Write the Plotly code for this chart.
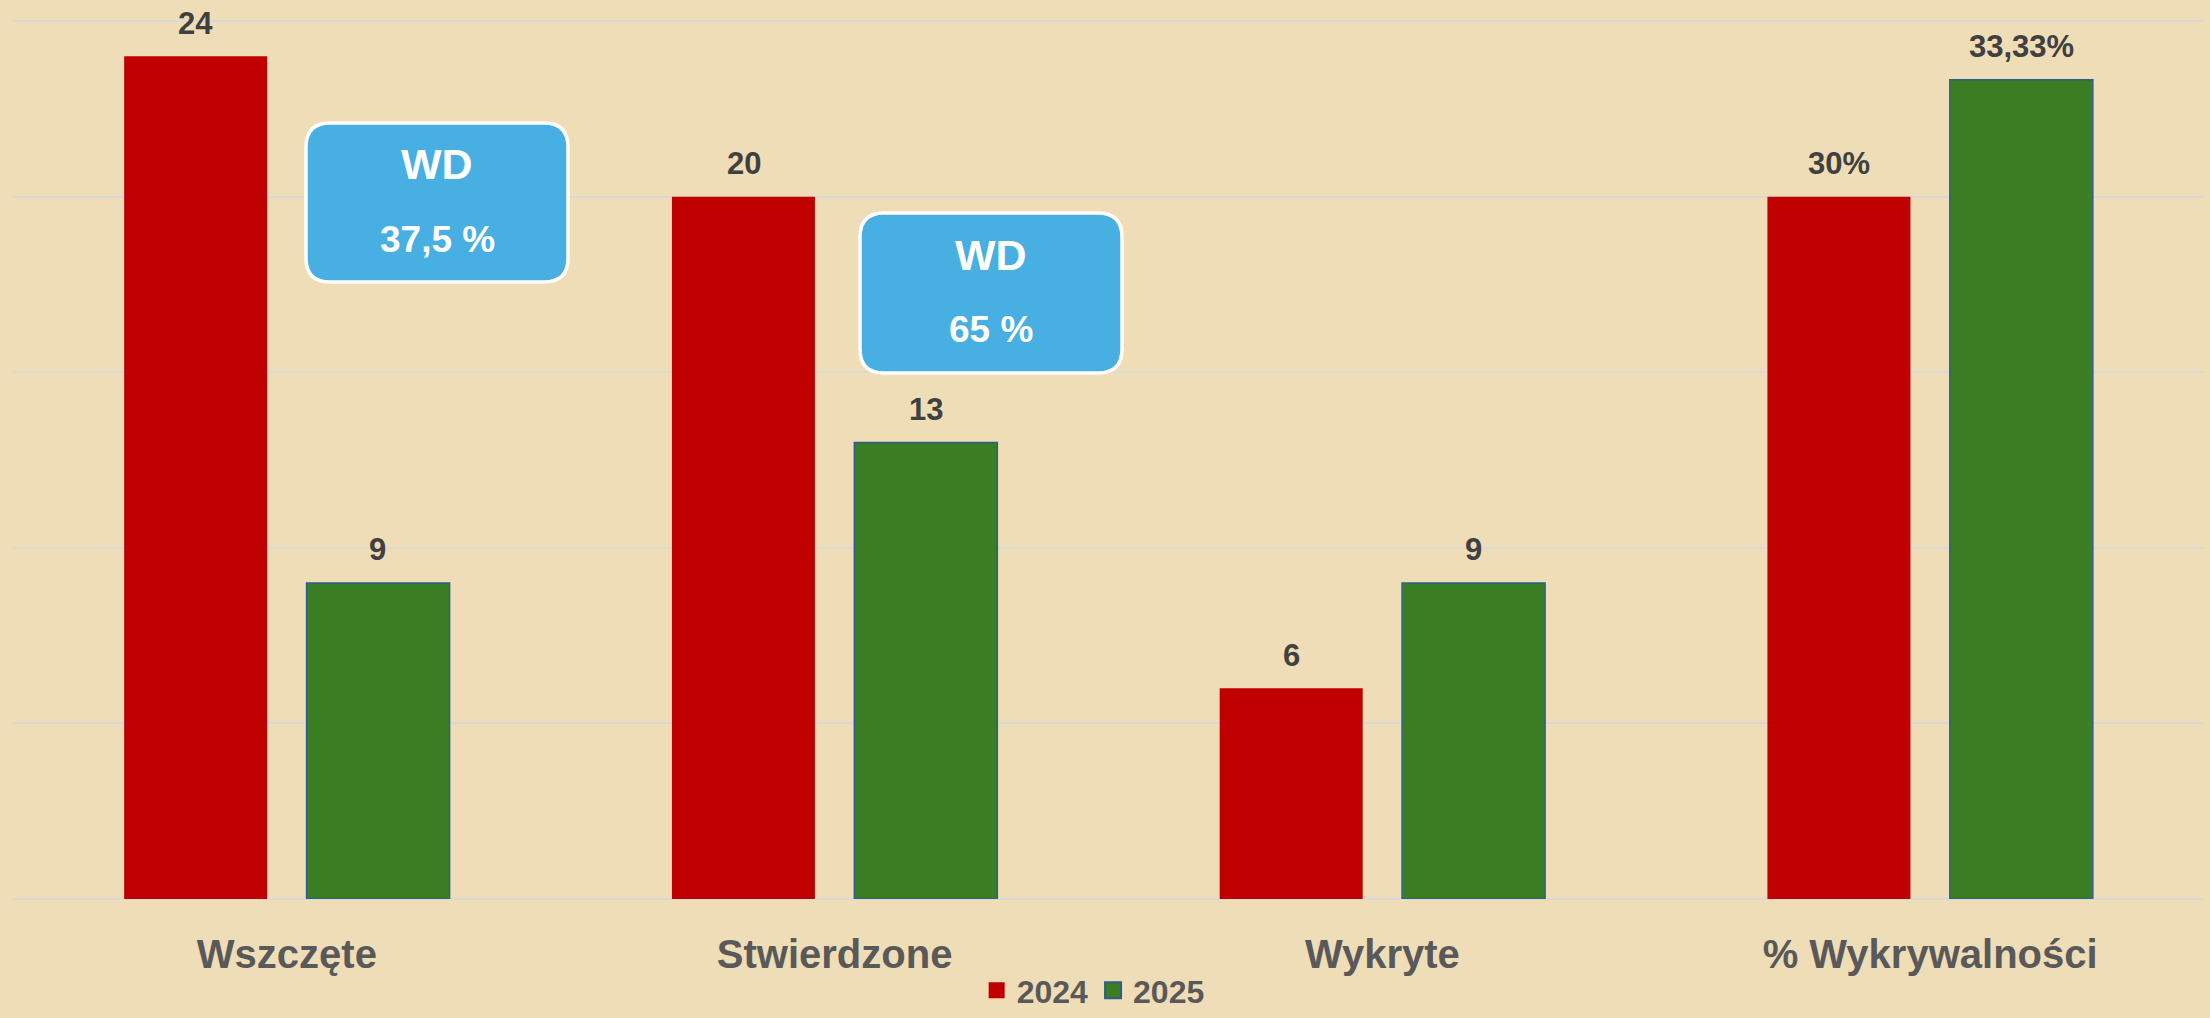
import plotly.graph_objects as go

categories = ["Wszczęte", "Stwierdzone", "Wykryte", "% Wykrywalności"]
series_names = ["2024", "2025"]
values_2024 = [24, 20, 6, 20]
values_2025 = [9, 13, 9, 23.33]
labels_2024 = ["24", "20", "6", "30%"]
labels_2025 = ["9", "13", "9", "33,33%"]
wd_titles = ["WD", "WD"]
wd_values = ["37,5 %", "65 %"]

RED = "#C00000"
GREEN = "#3A7D22"
EDGE = "#2E5E8C"
BG = "#EFDDB7"
FONT = "Liberation Sans, Arial, sans-serif"

fig = go.Figure()
fig.add_trace(go.Bar(name=series_names[0], x=categories, y=values_2024, showlegend=False,
                     legendgroup="a", marker=dict(color=RED, line=dict(width=0))))
fig.add_trace(go.Bar(name=series_names[1], x=categories, y=values_2025, showlegend=False,
                     legendgroup="b", marker=dict(color=GREEN, line=dict(color=EDGE, width=1.5))))
# legend entries with larger square symbols
fig.add_trace(go.Scatter(name=series_names[0], x=[None], y=[None], mode="markers", legendgroup="a",
                         marker=dict(symbol="square", size=20, color=RED)))
fig.add_trace(go.Scatter(name=series_names[1], x=[None], y=[None], mode="markers", legendgroup="b",
                         marker=dict(symbol="square", size=20, color=GREEN,
                                     line=dict(color=EDGE, width=2))))

# value labels
offset = 91
for vals, labs, sh in [(values_2024, labels_2024, -offset), (values_2025, labels_2025, offset)]:
    for c, v, t in zip(categories, vals, labs):
        fig.add_annotation(x=c, y=v, text=t, showarrow=False,
                           xshift=sh, yshift=33, yanchor="middle", xanchor="center",
                           font=dict(family=FONT, size=31, color="#404040", weight="bold"))

# WD boxes (paper coords)
W, H = 2191.0, 899.0
def rounded(x0, y0, x1, y1, r):
    rx, ry = r / W, r / H
    return (f"M{x0+rx},{y0} L{x1-rx},{y0} Q{x1},{y0} {x1},{y0+ry} "
            f"L{x1},{y1-ry} Q{x1},{y1} {x1-rx},{y1} L{x0+rx},{y1} "
            f"Q{x0},{y1} {x0},{y1-ry} L{x0},{y0+ry} Q{x0},{y0} {x0+rx},{y0} Z")

boxes_px = [(306, 123, 568, 282), (860, 213, 1122, 373)]
for (px0, py0, px1, py1), t1, t2 in zip(boxes_px, wd_titles, wd_values):
    x0 = (px0 - 13) / W
    x1 = (px1 - 13) / W
    y0 = 1 - py1 / H
    y1 = 1 - py0 / H
    fig.add_shape(type="path", xref="paper", yref="paper", path=rounded(x0, y0, x1, y1, 24),
                  fillcolor="#47AFE1", line=dict(color="white", width=3.5), layer="above")
    xc = (x0 + x1) / 2
    hpx = py1 - py0
    fig.add_annotation(xref="paper", yref="paper", x=xc, y=1 - (py0 + hpx * 0.26) / H,
                       text=t1, showarrow=False, yanchor="middle", xanchor="center",
                       font=dict(family=FONT, size=43, color="white", weight="bold"))
    fig.add_annotation(xref="paper", yref="paper", x=xc, y=1 - (py0 + hpx * 0.73) / H,
                       text=t2, showarrow=False, yanchor="middle", xanchor="center",
                       font=dict(family=FONT, size=37, color="white", weight="bold"))

fig.update_layout(
    width=2210, height=1018,
    margin=dict(l=13, r=6, t=0, b=119, autoexpand=False),
    paper_bgcolor=BG, plot_bgcolor=BG,
    barmode="group", bargap=0.334, bargroupgap=0.216,
    showlegend=True,
    legend=dict(orientation="h", x=0.493, xanchor="center",
                yref="container", y=0.0, yanchor="bottom",
                font=dict(family=FONT, size=32, color="#595959", weight="bold"),
                bgcolor="rgba(0,0,0,0)", itemwidth=30, traceorder="normal",
                tracegroupgap=0),
)
fig.update_xaxes(showgrid=False, showline=False, zeroline=False, ticks="", automargin=False,
                 tickfont=dict(family=FONT, size=40, color="#595959", weight="bold"),
                 ticklabelstandoff=28)
fig.update_yaxes(range=[0, 25.6], showgrid=True, gridcolor="#D9D9D9", gridwidth=2,
                 dtick=5, showticklabels=False, zeroline=True, zerolinecolor="#D9D9D9",
                 zerolinewidth=2, showline=False, automargin=False)

fig.write_html("out.html", config={"displayModeBar": False},
               post_script="document.body.style.margin='0';document.body.style.padding='0';")
